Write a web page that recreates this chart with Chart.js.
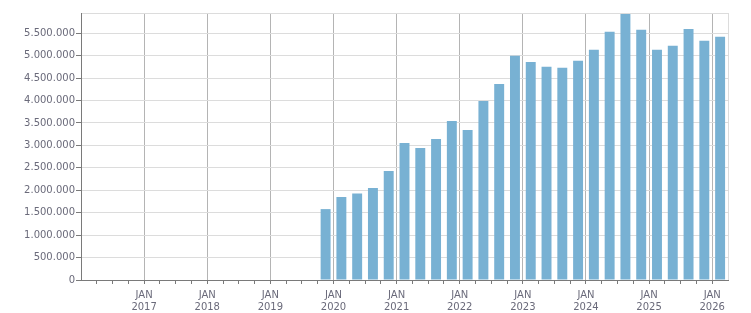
<!DOCTYPE html>
<html>
<head>
<meta charset="utf-8">
<script src="https://cdn.jsdelivr.net/npm/chart.js@4.4.1/dist/chart.umd.min.js"></script>
<style>
  html, body { margin: 0; padding: 0; background: #fff; }
  #myChart { display: block; }
</style>
</head>
<body>
<canvas id="myChart" width="751" height="313"></canvas>
<script>
// quarterly values, Q4 2019 .. Q1 2026
const quarters = [
  "2019 Q4",
  "2020 Q1", "2020 Q2", "2020 Q3", "2020 Q4",
  "2021 Q1", "2021 Q2", "2021 Q3", "2021 Q4",
  "2022 Q1", "2022 Q2", "2022 Q3", "2022 Q4",
  "2023 Q1", "2023 Q2", "2023 Q3", "2023 Q4",
  "2024 Q1", "2024 Q2", "2024 Q3", "2024 Q4",
  "2025 Q1", "2025 Q2", "2025 Q3", "2025 Q4",
  "2026 Q1",
];
const values = [
  1580000,
  1850000, 1925000, 2050000, 2430000,
  3055000, 2940000, 3140000, 3545000,
  3345000, 3990000, 4370000, 4995000,
  4860000, 4750000, 4730000, 4885000,
  5130000, 5530000, 5930000, 5575000,
  5130000, 5220000, 5595000, 5330000,
  5420000,
];
const yearLabels = [2017, 2018, 2019, 2020, 2021, 2022, 2023, 2024, 2025, 2026];
const monthLabel = "JAN";
const yTicks = [0, 500000, 1000000, 1500000, 2000000, 2500000, 3000000,
  3500000, 4000000, 4500000, 5000000, 5500000];

const xMin = 2016;
const xMax = 2026.25;
const yMax = 5950000;

// place each bar in the middle of its quarter
const toPoint = function (label, i) {
  var parts = label.split(" Q");
  var x = parseInt(parts[0]) + (parseInt(parts[1]) - 1) * 0.25 + 0.125;
  return { x: x, y: values[i] };
};

const formatNumber = function (v) {
  return String(Math.round(v)).replace(/\B(?=(\d{3})+(?!\d))/g, ".");
};

const isYear = function (v) {
  return Math.abs(v - Math.round(v)) < 1e-6;
};

const axisColor = "#7a7a7a";
const textColor = "#6a6a7a";

const config = {
  type: "bar",
  data: {
    datasets: [
      {
        data: quarters.map(toPoint),
        backgroundColor: "#78b1d3",
        borderWidth: 0,
        categoryPercentage: 1,
        barPercentage: 0.63,
      },
    ],
  },
  options: {
    responsive: false,
    animation: false,
    devicePixelRatio: 1,
    layout: {
      padding: { top: 13, right: 23, bottom: 0, left: 0 },
    },
    plugins: {
      legend: { display: false },
      tooltip: { enabled: false },
    },
    scales: {
      x: {
        type: "linear",
        min: xMin,
        max: xMax,
        offset: false,
        afterFit: function (scale) {
          scale.height = 33;
        },
        border: { color: axisColor, width: 1 },
        grid: {
          offset: false,
          color: function (ctx) {
            var v = ctx.tick ? ctx.tick.value : 0;
            if (Math.abs(v - xMax) < 1e-6) return "#dcdcdc";
            if (isYear(v) && v > xMin) return "#b4b4b4";
            return "rgba(0,0,0,0)";
          },
          tickColor: function (ctx) {
            var v = ctx.tick ? ctx.tick.value : 0;
            if (Math.abs(v - xMax) < 1e-6 || Math.abs(v - xMin) < 1e-6) return "rgba(0,0,0,0)";
            return axisColor;
          },
          tickLength: 4,
        },
        ticks: {
          stepSize: 0.25,
          maxTicksLimit: 60,
          autoSkip: false,
          maxRotation: 0,
          padding: 5,
          color: textColor,
          font: { family: "DejaVu Sans", size: 10, lineHeight: 1.25 },
          callback: function (value) {
            var yr = Math.round(value);
            if (isYear(value) && yearLabels.indexOf(yr) >= 0) {
              return [monthLabel, String(yr)];
            }
            return "";
          },
        },
      },
      y: {
        min: 0,
        max: yMax,
        afterBuildTicks: function (scale) {
          // labelled ticks plus the top edge of the plot
          scale.ticks = yTicks.concat([yMax]).map(function (v) {
            return { value: v };
          });
        },
        afterFit: function (scale) {
          scale.width = 81;
        },
        border: { color: axisColor, width: 1 },
        grid: {
          color: "#dcdcdc",
          tickColor: function (ctx) {
            var v = ctx.tick ? ctx.tick.value : 0;
            return v === yMax ? "rgba(0,0,0,0)" : axisColor;
          },
          tickLength: 5,
        },
        ticks: {
          autoSkip: false,
          padding: 1,
          color: textColor,
          font: { family: "DejaVu Sans", size: 10 },
          callback: function (value) {
            if (value === yMax) return "";
            return formatNumber(value);
          },
        },
      },
    },
  },
};

const ctx = document.getElementById("myChart");
const barChart = new Chart(ctx, config);
</script>
</body>
</html>
